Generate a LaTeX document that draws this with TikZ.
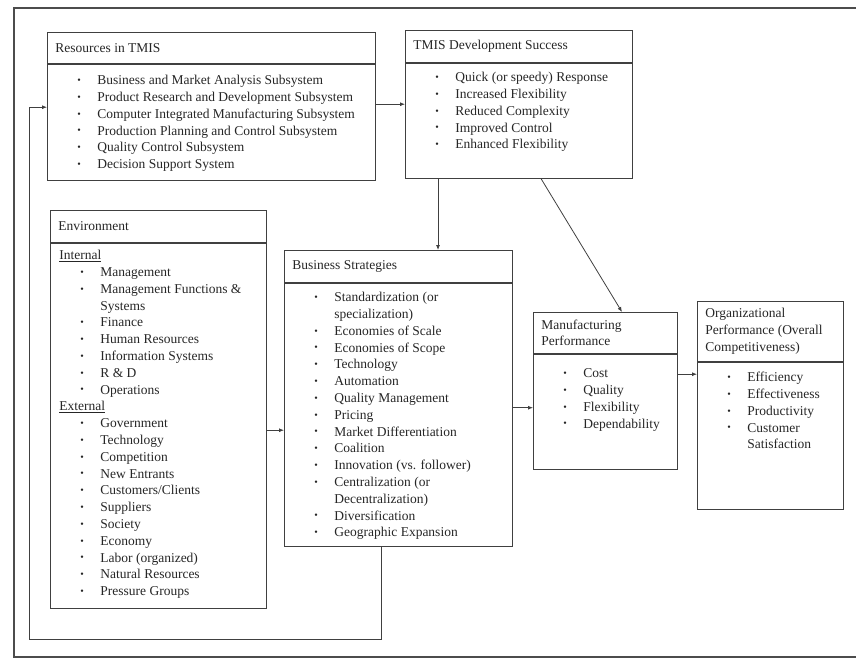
\documentclass[tikz,border=0pt]{standalone}
\usepackage{fontspec}
\setmainfont{Liberation Serif}
\usetikzlibrary{positioning,arrows.meta}
\tikzstyle{boxhead} = [draw=black!75, line width=.8pt, inner sep=0pt, anchor=north west, text=black!85, font=\fontsize{13.5}{16.8}\selectfont]
\tikzstyle{boxbody} = [boxhead]
\tikzstyle{link} = [draw=black!75, line width=.8pt, -{Latex[length=5pt,width=4pt]}]
% header and body contents
\newcommand{\hd}[3]{\parbox[c][#1][c]{#2}{\leftskip=8pt #3}}
\newcommand{\bd}[4]{\parbox[c][#1][t]{#2}{\vspace*{#3}#4}}
\newcommand{\bul}{\raisebox{1.2pt}{\fontsize{10}{10}\selectfont\textbullet}}
\newcommand{\itm}[1]{\par\hspace*{30pt}\makebox[20pt][l]{\bul}#1\strut}
\newcommand{\itc}[1]{\par\hspace*{50pt}#1\strut}
\newcommand{\grp}[1]{\par\hspace*{9pt}\underline{#1}\strut}

\begin{document}
\begin{tikzpicture}[x=1pt, y=-1pt]
	\useasboundingbox (0,0) rectangle (856,659);
	\draw[line width=1.1pt, black!70] (857,8) -- (14,8) -- (14,657) -- (857,657);

	% resources
	\node[boxhead] (resHead) at (47,32) {\hd{31pt}{328pt}{Resources in TMIS}};
	\node[boxbody, below=0pt of resHead] (resBody) {\bd{116pt}{328pt}{8.7pt}{%
		\itm{Business and Market Analysis Subsystem}
		\itm{Product Research and Development Subsystem}
		\itm{Computer Integrated Manufacturing Subsystem}
		\itm{Production Planning and Control Subsystem}
		\itm{Quality Control Subsystem}
		\itm{Decision Support System}}};

	% development success
	\node[boxhead] (tmisHead) at (405,30) {\hd{32pt}{227pt}{TMIS Development Success}};
	\node[boxbody, below=0pt of tmisHead] (tmisBody) {\bd{115pt}{227pt}{6.7pt}{%
		\itm{Quick (or speedy) Response}
		\itm{Increased Flexibility}
		\itm{Reduced Complexity}
		\itm{Improved Control}
		\itm{Enhanced Flexibility}}};

	% environment
	\node[boxhead] (envHead) at (50,210) {\hd{32pt}{216pt}{Environment}};
	\node[boxbody, below=0pt of envHead] (envBody) {\bd{365pt}{216pt}{4.7pt}{%
		\grp{Internal}
		\itm{Management}
		\itm{Management Functions \&}
		\itc{Systems}
		\itm{Finance}
		\itm{Human Resources}
		\itm{Information Systems}
		\itm{R \& D}
		\itm{Operations}
		\grp{External}
		\itm{Government}
		\itm{Technology}
		\itm{Competition}
		\itm{New Entrants}
		\itm{Customers/Clients}
		\itm{Suppliers}
		\itm{Society}
		\itm{Economy}
		\itm{Labor (organized)}
		\itm{Natural Resources}
		\itm{Pressure Groups}}};

	% strategies
	\node[boxhead] (bsHead) at (284,250) {\hd{32pt}{228pt}{Business Strategies}};
	\node[boxbody, below=0pt of bsHead] (bsBody) {\bd{263pt}{228pt}{6.7pt}{%
		\itm{Standardization (or}
		\itc{specialization)}
		\itm{Economies of Scale}
		\itm{Economies of Scope}
		\itm{Technology}
		\itm{Automation}
		\itm{Quality Management}
		\itm{Pricing}
		\itm{Market Differentiation}
		\itm{Coalition}
		\itm{Innovation (vs. follower)}
		\itm{Centralization (or}
		\itc{Decentralization)}
		\itm{Diversification}
		\itm{Geographic Expansion}}};

	% manufacturing performance
	\node[boxhead] (mfgHead) at (533,312) {\hd{41pt}{144pt}{Manufacturing\\Performance}};
	\node[boxbody, below=0pt of mfgHead] (mfgBody) {\bd{115pt}{144pt}{11.7pt}{%
		\itm{Cost}
		\itm{Quality}
		\itm{Flexibility}
		\itm{Dependability}}};

	% organizational performance
	\node[boxhead] (orgHead) at (697,301) {\hd{60pt}{146pt}{Organizational\\Performance (Overall\\Competitiveness)}};
	\node[boxbody, below=0pt of orgHead] (orgBody) {\bd{147pt}{146pt}{7.7pt}{%
		\itm{Efficiency}
		\itm{Effectiveness}
		\itm{Productivity}
		\itm{Customer}
		\itc{Satisfaction}}};

	% connectors
	\coordinate (resOut) at ([yshift=18pt]resBody.east);
	\draw[link] (resOut) -- (resOut -| tmisBody.west);
	\coordinate (tmisDown) at ([xshift=33pt]tmisBody.south west);
	\draw[link] (tmisDown) -- (tmisDown |- bsHead.north);
	\draw[link] ([xshift=136pt]tmisBody.south west) -- ([xshift=89pt]mfgHead.north west);
	\coordinate (envOut) at ([yshift=-4.5pt]envBody.east);
	\draw[link] (envOut) -- (envOut -| bsBody.west);
	\coordinate (bsOut) at ([yshift=7pt]bsBody.east);
	\draw[link] (bsOut) -- (bsOut -| mfgBody.west);
	\coordinate (mfgOut) at ([yshift=37.5pt]mfgBody.east);
	\draw[link] (mfgOut) -- (mfgOut -| orgBody.west);
	% feedback loop
	\coordinate (bsDown) at ([xshift=-17pt]bsBody.south);
	\coordinate (fbBase) at (29,639);
	\coordinate (fbIn) at ([yshift=15pt]resBody.west);
	\draw[link] (bsDown) |- (fbBase) |- (fbIn);
\end{tikzpicture}
\end{document}
